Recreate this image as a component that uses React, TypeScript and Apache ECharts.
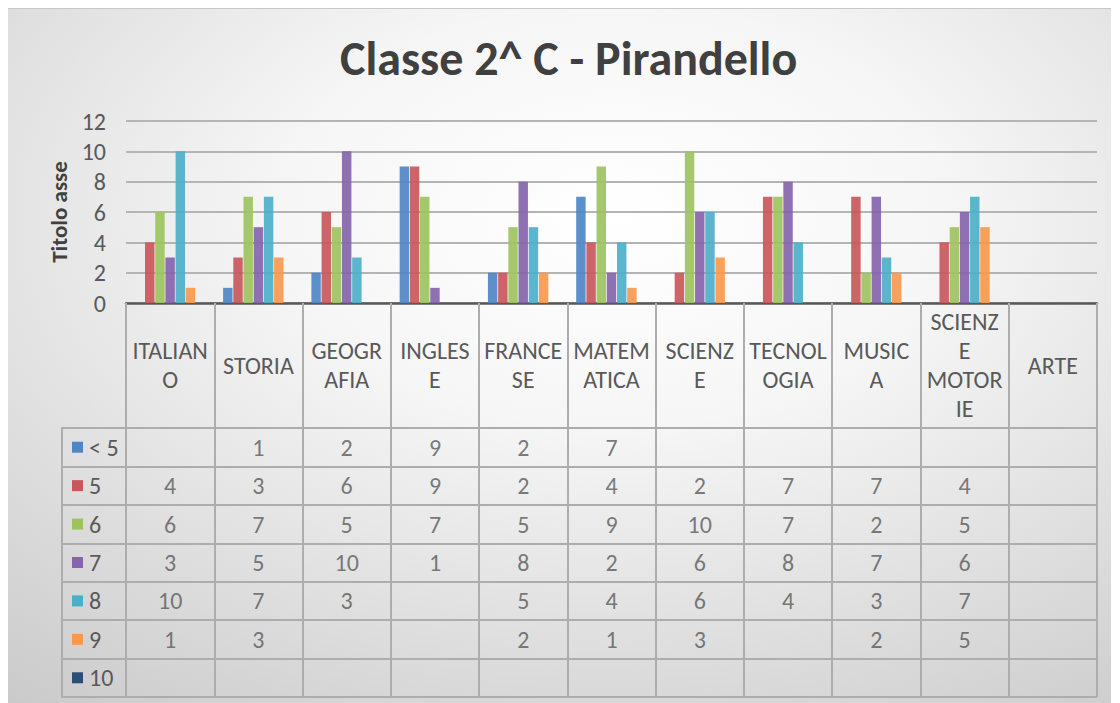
import React, { useEffect, useRef } from "react";
import * as echarts from "echarts";

const categories = [
  "ITALIANO", "STORIA", "GEOGRAFIA", "INGLESE", "FRANCESE", "MATEMATICA",
  "SCIENZE", "TECNOLOGIA", "MUSICA", "SCIENZE MOTORIE", "ARTE",
];
const categoryLabels = [
  "ITALIAN\nO", "STORIA", "GEOGR\nAFIA", "INGLES\nE", "FRANCE\nSE", "MATEM\nATICA",
  "SCIENZ\nE", "TECNOL\nOGIA", "MUSIC\nA", "SCIENZ\nE\nMOTOR\nIE", "ARTE",
];
const seriesNames = ["< 5", "5", "6", "7", "8", "9", "10"];
const lt5 = [null, 1, 2, 9, 2, 7, null, null, null, null, null];
const v5 = [4, 3, 6, 9, 2, 4, 2, 7, 7, 4, null];
const v6 = [6, 7, 5, 7, 5, 9, 10, 7, 2, 5, null];
const v7 = [3, 5, 10, 1, 8, 2, 6, 8, 7, 6, null];
const v8 = [10, 7, 3, null, 5, 4, 6, 4, 3, 7, null];
const v9 = [1, 3, null, null, 2, 1, 3, null, 2, 5, null];
const v10 = [null, null, null, null, null, null, null, null, null, null, null];
const seriesValues = [lt5, v5, v6, v7, v8, v9, v10];
const colors = ["#4f86c6", "#c9575a", "#9dc35f", "#8565ad", "#4cafc9", "#f7994e", "#2c4d75"];
const yTicks = { min: 0, max: 12, interval: 2 };

const FONT = "Carlito, Lato, 'Open Sans', sans-serif";
const TEXT = "#595959";
const LINE = "#adadad";
const FS = 24;

export default function App() {
  const ref = useRef<HTMLDivElement>(null);
  useEffect(() => {
    if (!ref.current) return;
    const chart = echarts.init(ref.current, undefined, { renderer: "svg" });

    const rich: Record<string, any> = {
      t: { fontSize: FS, color: TEXT, fontFamily: FONT, padding: [0, 0, 0, 6] },
    };
    colors.forEach((c, i) => {
      rich["m" + i] = { width: 11, height: 11, backgroundColor: c };
    });

    const tableData: any[] = [];
    seriesValues.forEach((arr, s) => {
      arr.forEach((v, c) => {
        if (v !== null && v !== undefined) tableData.push([categories[c], seriesNames[s], v]);
      });
    });

    const bars = seriesValues.map((arr, i) => ({
      name: seriesNames[i],
      type: "bar",
      xAxisIndex: 0,
      yAxisIndex: 0,
      data: arr,
      barGap: "8%",
      barCategoryGap: "20%",
      itemStyle: { color: colors[i], opacity: 0.92 },
    }));

    chart.setOption({
      animation: false,
      backgroundColor: {
        type: "radial",
        x: 0.55,
        y: 0.3,
        r: 1.0,
        colorStops: [
          { offset: 0, color: "#ffffff" },
          { offset: 0.3, color: "#f6f6f6" },
          { offset: 1, color: "#c2c2c2" },
        ],
      },
      textStyle: { fontFamily: FONT },
      title: {
        text: "Classe 2^ C - Pirandello",
        left: 327,
        top: 20,
        textStyle: { fontFamily: FONT, fontSize: 48, fontWeight: "bold", color: "#404040" },
      },
      grid: [
        { left: 118, top: 112, width: 971, height: 182 },
        { left: 118, top: 419, width: 971, height: 269 },
      ],
      xAxis: [
        {
          type: "category",
          gridIndex: 0,
          data: categories,
          axisLine: { lineStyle: { color: "#595959", width: 2.5 } },
          axisTick: { show: true, interval: 0, length: 394, lineStyle: { color: LINE, width: 2 } },
          axisLabel: {
            interval: 0,
            formatter: (_v: string, i: number) => categoryLabels[i],
            fontSize: FS,
            color: TEXT,
            fontFamily: FONT,
            lineHeight: 29,
            verticalAlign: "middle",
            margin: 62,
          },
        },
        {
          type: "category",
          gridIndex: 1,
          data: categories,
          axisLine: { show: false },
          axisTick: { show: false },
          axisLabel: { show: false },
          splitLine: { show: false },
        },
      ],
      yAxis: [
        {
          type: "value",
          gridIndex: 0,
          min: yTicks.min,
          max: yTicks.max,
          interval: yTicks.interval,
          name: "Titolo asse",
          nameLocation: "middle",
          nameGap: 54,
          nameRotate: 90,
          nameTextStyle: { fontSize: 23, fontWeight: "bold", color: "#404040", fontFamily: FONT },
          axisLine: { show: false },
          axisTick: { show: false },
          axisLabel: { fontSize: FS, color: TEXT, fontFamily: FONT, margin: 20 },
          splitLine: { lineStyle: { color: "#b4b4b4", width: 1.8 } },
        },
        {
          type: "category",
          gridIndex: 1,
          data: seriesNames,
          inverse: true,
          offset: 64,
          axisLine: { show: true, lineStyle: { color: LINE, width: 2 } },
          axisTick: { show: true, inside: true, interval: 0, length: 64, lineStyle: { color: LINE, width: 2 } },
          axisLabel: {
            inside: true,
            margin: 10,
            interval: 0,
            formatter: (v: string, i: number) => `{m${i}|}{t|${v}}`,
            rich,
          },
          splitLine: { show: true, interval: 0, lineStyle: { color: LINE, width: 2 } },
        },
      ],
      series: [
        ...bars,
        {
          type: "scatter",
          xAxisIndex: 1,
          yAxisIndex: 1,
          data: tableData,
          symbolSize: 2,
          itemStyle: { color: "rgba(0,0,0,0)" },
          silent: true,
          z: 10,
          label: {
            show: true,
            position: "inside",
            formatter: (p: any) => String(p.value[2]),
            fontSize: FS,
            color: TEXT,
            fontFamily: FONT,
          },
        },
      ],
    });
    return () => chart.dispose();
  }, []);
  return (
    <div
      ref={ref}
      style={{ width: 1103, height: 695, borderTop: "1px solid #c8c8c8", boxSizing: "border-box" }}
    />
  );
}
